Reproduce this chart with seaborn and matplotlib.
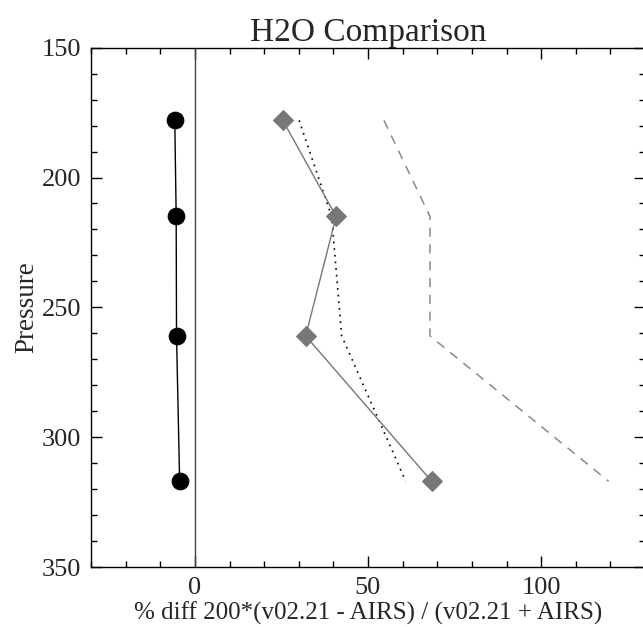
import matplotlib
matplotlib.use("Agg")
import matplotlib.pyplot as plt
import seaborn as sns
import pandas as pd
from matplotlib.ticker import MultipleLocator

pressure = [178, 215, 261, 317]
black_diff = [-5.8, -5.4, -5.3, -4.4]
gray_diff = [25.4, 40.8, 32.0, 68.4]
dotted_diff = [30.1, 39.5, 42.4, 60.9]
dashed_diff = [54.6, 67.9, 67.9, 119.5]

sns.set_theme(style="white")
plt.rcParams['font.family'] = ['Liberation Serif', 'DejaVu Serif']

fig = plt.figure(figsize=(6.43, 6.27), dpi=100)
ax = fig.add_axes([91/643, 1-567/627, (645-91)/643, (567-47.7)/627])

df = pd.DataFrame({"p": pressure, "black": black_diff, "gray": gray_diff,
                   "dot": dotted_diff, "dash": dashed_diff})

ax.axvline(0, color="#444444", lw=1.0, zorder=1)

sns.lineplot(data=df, x="dash", y="p", sort=False, estimator=None, ax=ax,
             color="#8a8a8a", lw=1.1, linestyle=(0, (6, 5)))
sns.lineplot(data=df, x="dot", y="p", sort=False, estimator=None, ax=ax,
             color="black", lw=1.2, linestyle=(0, (1, 3)))
sns.lineplot(data=df, x="gray", y="p", sort=False, estimator=None, ax=ax,
             color="#777777", lw=1.0, marker="D", markersize=10,
             markeredgecolor="#777777", markerfacecolor="#777777")
sns.lineplot(data=df, x="black", y="p", sort=False, estimator=None, ax=ax,
             color="black", lw=1.0, marker="o", markersize=12,
             markeredgecolor="black", markerfacecolor="black")

ax.set_xlim(-30, 130)
ax.set_ylim(350, 150)
ax.xaxis.set_major_locator(MultipleLocator(50))
ax.xaxis.set_minor_locator(MultipleLocator(10))
ax.yaxis.set_major_locator(MultipleLocator(50))
ax.yaxis.set_minor_locator(MultipleLocator(10))
ax.tick_params(which="both", direction="in", top=True, right=True,
               bottom=True, left=True, color="black", width=1.0)
ax.tick_params(which="major", length=8)
ax.tick_params(which="minor", length=4.3)
ax.tick_params(axis="both", labelsize=19, pad=7)
for s in ax.spines.values():
    s.set_color("black")
    s.set_linewidth(1.0)

ax.set_title("H2O Comparison", fontsize=24, pad=4)
ax.set_xlabel("% diff 200*(v02.21 - AIRS) / (v02.21 + AIRS)", fontsize=18, labelpad=2)
ax.set_ylabel("Pressure", fontsize=19.5, labelpad=2)

fig.savefig("out.png", dpi=100)
